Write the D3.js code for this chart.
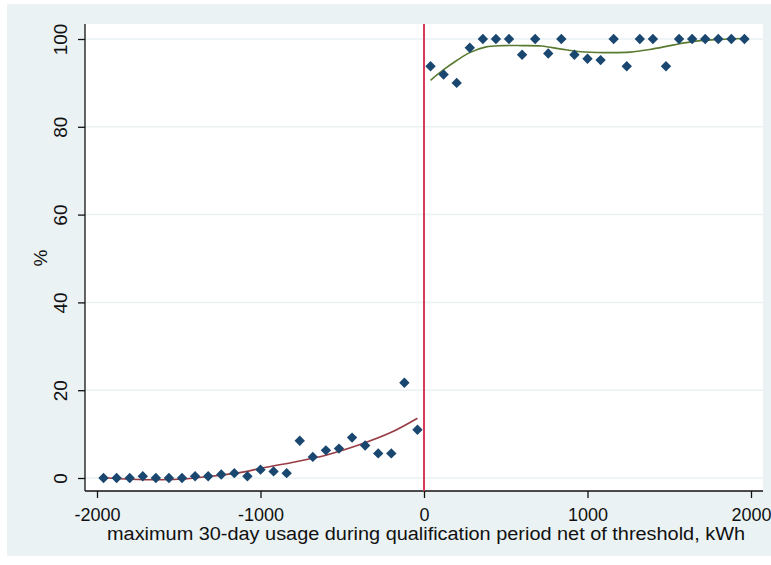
<!DOCTYPE html>
<html>
<head>
<meta charset="utf-8">
<script src="https://cdn.jsdelivr.net/npm/d3@7"></script>
<style>
  body { margin: 0; background: #fff; }
  text { font-family: "Liberation Sans", Arial, sans-serif; fill: #111; }
</style>
</head>
<body>
<svg></svg>
<script>
const width = 771
const height = 565

// bin centres (kWh) and share (%) below / above the threshold
const leftX = [-1960, -1880, -1800, -1720, -1640, -1560, -1480, -1400, -1320, -1240, -1160, -1080, -1000,
    -920, -840, -760, -680, -600, -520, -440, -360, -280, -200, -120, -40]
const leftY = [0, 0, 0, 0.4, 0, 0, 0, 0.4, 0.4, 0.8, 1.1, 0.4, 1.9,
    1.5, 1.1, 8.5, 4.8, 6.3, 6.7, 9.2, 7.4, 5.6, 5.6, 21.7, 11.0]

const rightX = [40, 120, 200, 280, 360, 440, 520, 600, 680, 760, 840, 920, 1000,
    1080, 1160, 1240, 1320, 1400, 1480, 1560, 1640, 1720, 1800, 1880, 1960]
const rightY = [93.8, 91.9, 90.0, 98.0, 100, 100, 100, 96.4, 100, 96.7, 100, 96.4, 95.5,
    95.2, 100, 93.8, 100, 100, 93.8, 100, 100, 100, 100, 100, 100]

// fitted curves
const leftFitX = [-1960, -1800, -1700, -1500, -1300, -1100, -1000, -800, -600, -400, -200, -40]
const leftFitY = [0.1, -0.3, -0.4, -0.3, 0.4, 1.4, 2.2, 3.6, 5.2, 7.5, 10.4, 13.6]

const rightFitX = [40, 120, 200, 280, 380, 480, 600, 720, 840, 960, 1100, 1260, 1380, 1520, 1640, 1760, 1960]
const rightFitY = [90.6, 93.0, 95.1, 96.9, 98.2, 98.5, 98.5, 98.4, 97.7, 97.1, 96.9, 97.0, 97.6, 98.6, 99.4, 99.8, 100.1]

const xTicks = [-2000, -1000, 0, 1000, 2000]
const yTicks = [0, 20, 40, 60, 80, 100]

const svg = d3.select("svg")
    .attr("width", width)
    .attr("height", height)

// plot region
const plot = { left: 85, right: 763, top: 24, bottom: 491 }

const xScale = d3.scaleLinear().domain([-2000, 2000]).range([97, 751])
const yScale = d3.scaleLinear().domain([0, 100]).range([478, 39])

// outer panel
svg.append("rect")
    .attr("x", 7).attr("y", 4)
    .attr("width", 764).attr("height", 552)
    .attr("fill", "#eaf2f3")

svg.append("rect")
    .attr("x", plot.left).attr("y", plot.top)
    .attr("width", plot.right - plot.left).attr("height", plot.bottom - plot.top)
    .attr("fill", "#fff")

// grid
svg.append("g").selectAll("line").data(yTicks)
    .enter().append("line")
    .attr("x1", plot.left).attr("x2", plot.right)
    .attr("y1", d => yScale(d)).attr("y2", d => yScale(d))
    .attr("stroke", "#eaf2f3")
    .attr("stroke-width", 1.5)

// axes
const plain = d => String(d)

const yAxisG = svg.append("g")
    .attr("transform", `translate(${plot.left}, 0)`)
    .call(d3.axisLeft(yScale).tickValues(yTicks).tickFormat(plain).tickSize(7).tickSizeOuter(0))
yAxisG.select(".domain").remove()
yAxisG.selectAll(".tick line").attr("stroke", "#111").attr("stroke-width", 1.3)
yAxisG.selectAll(".tick text")
    .attr("transform", "rotate(-90)")
    .attr("x", 0).attr("y", -18).attr("dy", 0)
    .attr("text-anchor", "middle")
    .attr("font-size", "19px")
    .attr("fill", "#111")

const xAxisG = svg.append("g")
    .attr("transform", `translate(0, ${plot.bottom})`)
    .call(d3.axisBottom(xScale).tickValues(xTicks).tickFormat(plain).tickSize(7).tickSizeOuter(0))
xAxisG.select(".domain").remove()
xAxisG.selectAll(".tick line").attr("stroke", "#111").attr("stroke-width", 1.3)
xAxisG.selectAll(".tick text")
    .attr("y", 30).attr("dy", 0)
    .attr("font-size", "18px")
    .attr("fill", "#111")

svg.append("line")
    .attr("x1", plot.left).attr("x2", plot.left)
    .attr("y1", plot.top).attr("y2", plot.bottom)
    .attr("stroke", "#111").attr("stroke-width", 1.3)
svg.append("line")
    .attr("x1", plot.left).attr("x2", plot.right)
    .attr("y1", plot.bottom).attr("y2", plot.bottom)
    .attr("stroke", "#111").attr("stroke-width", 1.3)

// threshold line
svg.append("line")
    .attr("x1", xScale(0)).attr("x2", xScale(0))
    .attr("y1", plot.top).attr("y2", plot.bottom)
    .attr("stroke", "#d93a5c").attr("stroke-width", 2)

// fitted lines
const line = d3.line()
    .x(d => xScale(d[0]))
    .y(d => yScale(d[1]))
    .curve(d3.curveCatmullRom)

svg.append("path")
    .datum(d3.zip(leftFitX, leftFitY))
    .attr("d", line)
    .attr("fill", "none")
    .attr("stroke", "#983c44")
    .attr("stroke-width", 1.6)

svg.append("path")
    .datum(d3.zip(rightFitX, rightFitY))
    .attr("d", line)
    .attr("fill", "none")
    .attr("stroke", "#5a7a32")
    .attr("stroke-width", 1.6)

// points
const points = d3.zip(leftX, leftY).concat(d3.zip(rightX, rightY))
const diamond = d3.symbol(d3.symbolSquare, 54)

svg.append("g").selectAll("path").data(points)
    .enter().append("path")
    .attr("d", diamond)
    .attr("transform", d => `translate(${xScale(d[0])}, ${yScale(d[1])}) rotate(45)`)
    .attr("fill", "#1a476f")

// titles
svg.append("text")
    .text("%")
    .attr("transform", "translate(47, 258) rotate(-90)")
    .attr("text-anchor", "middle")
    .attr("font-size", "19px")

svg.append("text")
    .text("maximum 30-day usage during qualification period net of threshold, kWh")
    .attr("x", 426)
    .attr("y", 540)
    .attr("text-anchor", "middle")
    .attr("font-size", "18px")
    .attr("textLength", 638)
    .attr("lengthAdjust", "spacingAndGlyphs")
</script>
</body>
</html>
